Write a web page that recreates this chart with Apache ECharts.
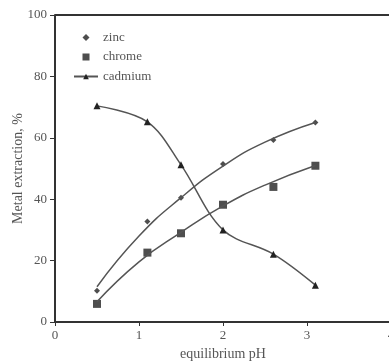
<!DOCTYPE html>
<html>
<head>
<meta charset="utf-8">
<script src="https://cdn.jsdelivr.net/npm/echarts@6/dist/echarts.min.js"></script>
<style>
  html, body { margin: 0; padding: 0; background: #fff; }
  #chart { width: 389px; height: 362px; }
</style>
</head>
<body>
<div id="chart"></div>
<script>
var ph = [0.5, 1.1, 1.5, 2.0, 2.6, 3.1];
var zinc = [10.2, 32.7, 40.5, 51.5, 59.3, 65];
var chrome = [5.9, 22.6, 28.9, 38.2, 44, 50.9];
var cadmium = [70.4, 65.2, 51.2, 30, 22.1, 12];

// fitted curves (as drawn in the figure)
var fitPh = [0.5, 1.0, 1.5, 2.0, 2.5, 3.1];
var zincFit = [11.5, 28, 40.5, 50.8, 58.6, 65];
var chromeFit = [6.6, 19.6, 29.2, 37.8, 44.6, 51];

var yTicks = [0, 20, 40, 60, 80, 100];
var xTicks = [0, 1, 2, 3, 4];

function pairs(xs, ys) {
    return xs.map(function (x, i) { return [x, ys[i]]; });
}

var chart = echarts.init(document.getElementById('chart'));

var font = '"Liberation Serif", "DejaVu Serif", serif';
var ink = '#333';
var textColor = '#555';

var option = {
    animation: false,
    textStyle: { fontFamily: font },
    grid: { left: 55, top: 15, right: -2, bottom: 40, outerBoundsMode: 'none', containLabel: false },
    legend: {
        orient: 'vertical',
        left: 73,
        top: 31,
        padding: 0,
        itemWidth: 24,
        itemHeight: 7,
        itemGap: 6.5,
        symbolKeepAspect: true,
        textStyle: { fontFamily: font, fontSize: 13, color: textColor },
        data: [
            { name: 'zinc', icon: 'path://M5,0L10,5L5,10L0,5Z' },
            { name: 'chrome', icon: 'path://M0,0H10V10H0Z' },
            { name: 'cadmium' }
        ]
    },
    xAxis: {
        type: 'value',
        min: 0, max: 4, interval: 1,
        name: 'equilibrium pH',
        nameLocation: 'middle',
        nameGap: 25,
        nameMoveOverlap: false,
        nameTextStyle: { fontFamily: font, fontSize: 14, color: textColor },
        axisLine: { show: true, onZero: false, lineStyle: { color: ink, width: 2 } },
        axisTick: { show: true, length: 4, lineStyle: { color: ink } },
        axisLabel: {
            fontFamily: font, fontSize: 13, color: textColor, margin: 7,
            formatter: function (v) { return xTicks.indexOf(v) >= 0 ? v : ''; }
        },
        splitLine: { show: false }
    },
    yAxis: {
        type: 'value',
        min: 0, max: 100, interval: 20,
        name: 'Metal extraction, %',
        nameLocation: 'middle',
        nameGap: 30,
        nameMoveOverlap: false,
        nameTextStyle: { fontFamily: font, fontSize: 14, color: textColor },
        axisLine: { show: true, lineStyle: { color: ink, width: 2 } },
        axisTick: { show: true, length: 5, lineStyle: { color: ink } },
        axisLabel: {
            fontFamily: font, fontSize: 13, color: textColor, margin: 8,
            formatter: function (v) { return yTicks.indexOf(v) >= 0 ? v : ''; }
        },
        splitLine: { show: false }
    },
    series: [
        {
            name: 'zinc-fit', type: 'line', smooth: 0.5, symbol: 'none',
            data: pairs(fitPh, zincFit),
            lineStyle: { color: '#555', width: 1.5 }, silent: true
        },
        {
            name: 'chrome-fit', type: 'line', smooth: 0.5, symbol: 'none',
            data: pairs(fitPh, chromeFit),
            lineStyle: { color: '#555', width: 1.5 }, silent: true
        },
        {
            name: 'zinc', type: 'scatter', symbol: 'diamond', symbolSize: 6,
            data: pairs(ph, zinc),
            itemStyle: { color: '#222' }
        },
        {
            name: 'chrome', type: 'scatter', symbol: 'rect', symbolSize: 8,
            data: pairs(ph, chrome),
            itemStyle: { color: '#222' }
        },
        {
            name: 'cadmium', type: 'line', smooth: 0.35,
            symbol: 'triangle', symbolSize: 7,
            data: pairs(ph, cadmium),
            lineStyle: { color: '#555', width: 1.5 },
            itemStyle: { color: '#222' }
        },
        {
            // top frame line of the plot box
            name: 'frame', type: 'line', symbol: 'none', silent: true,
            data: [[0, 100], [4, 100]],
            lineStyle: { color: ink, width: 2 }
        }
    ]
};

chart.setOption(option);
</script>
</body>
</html>
